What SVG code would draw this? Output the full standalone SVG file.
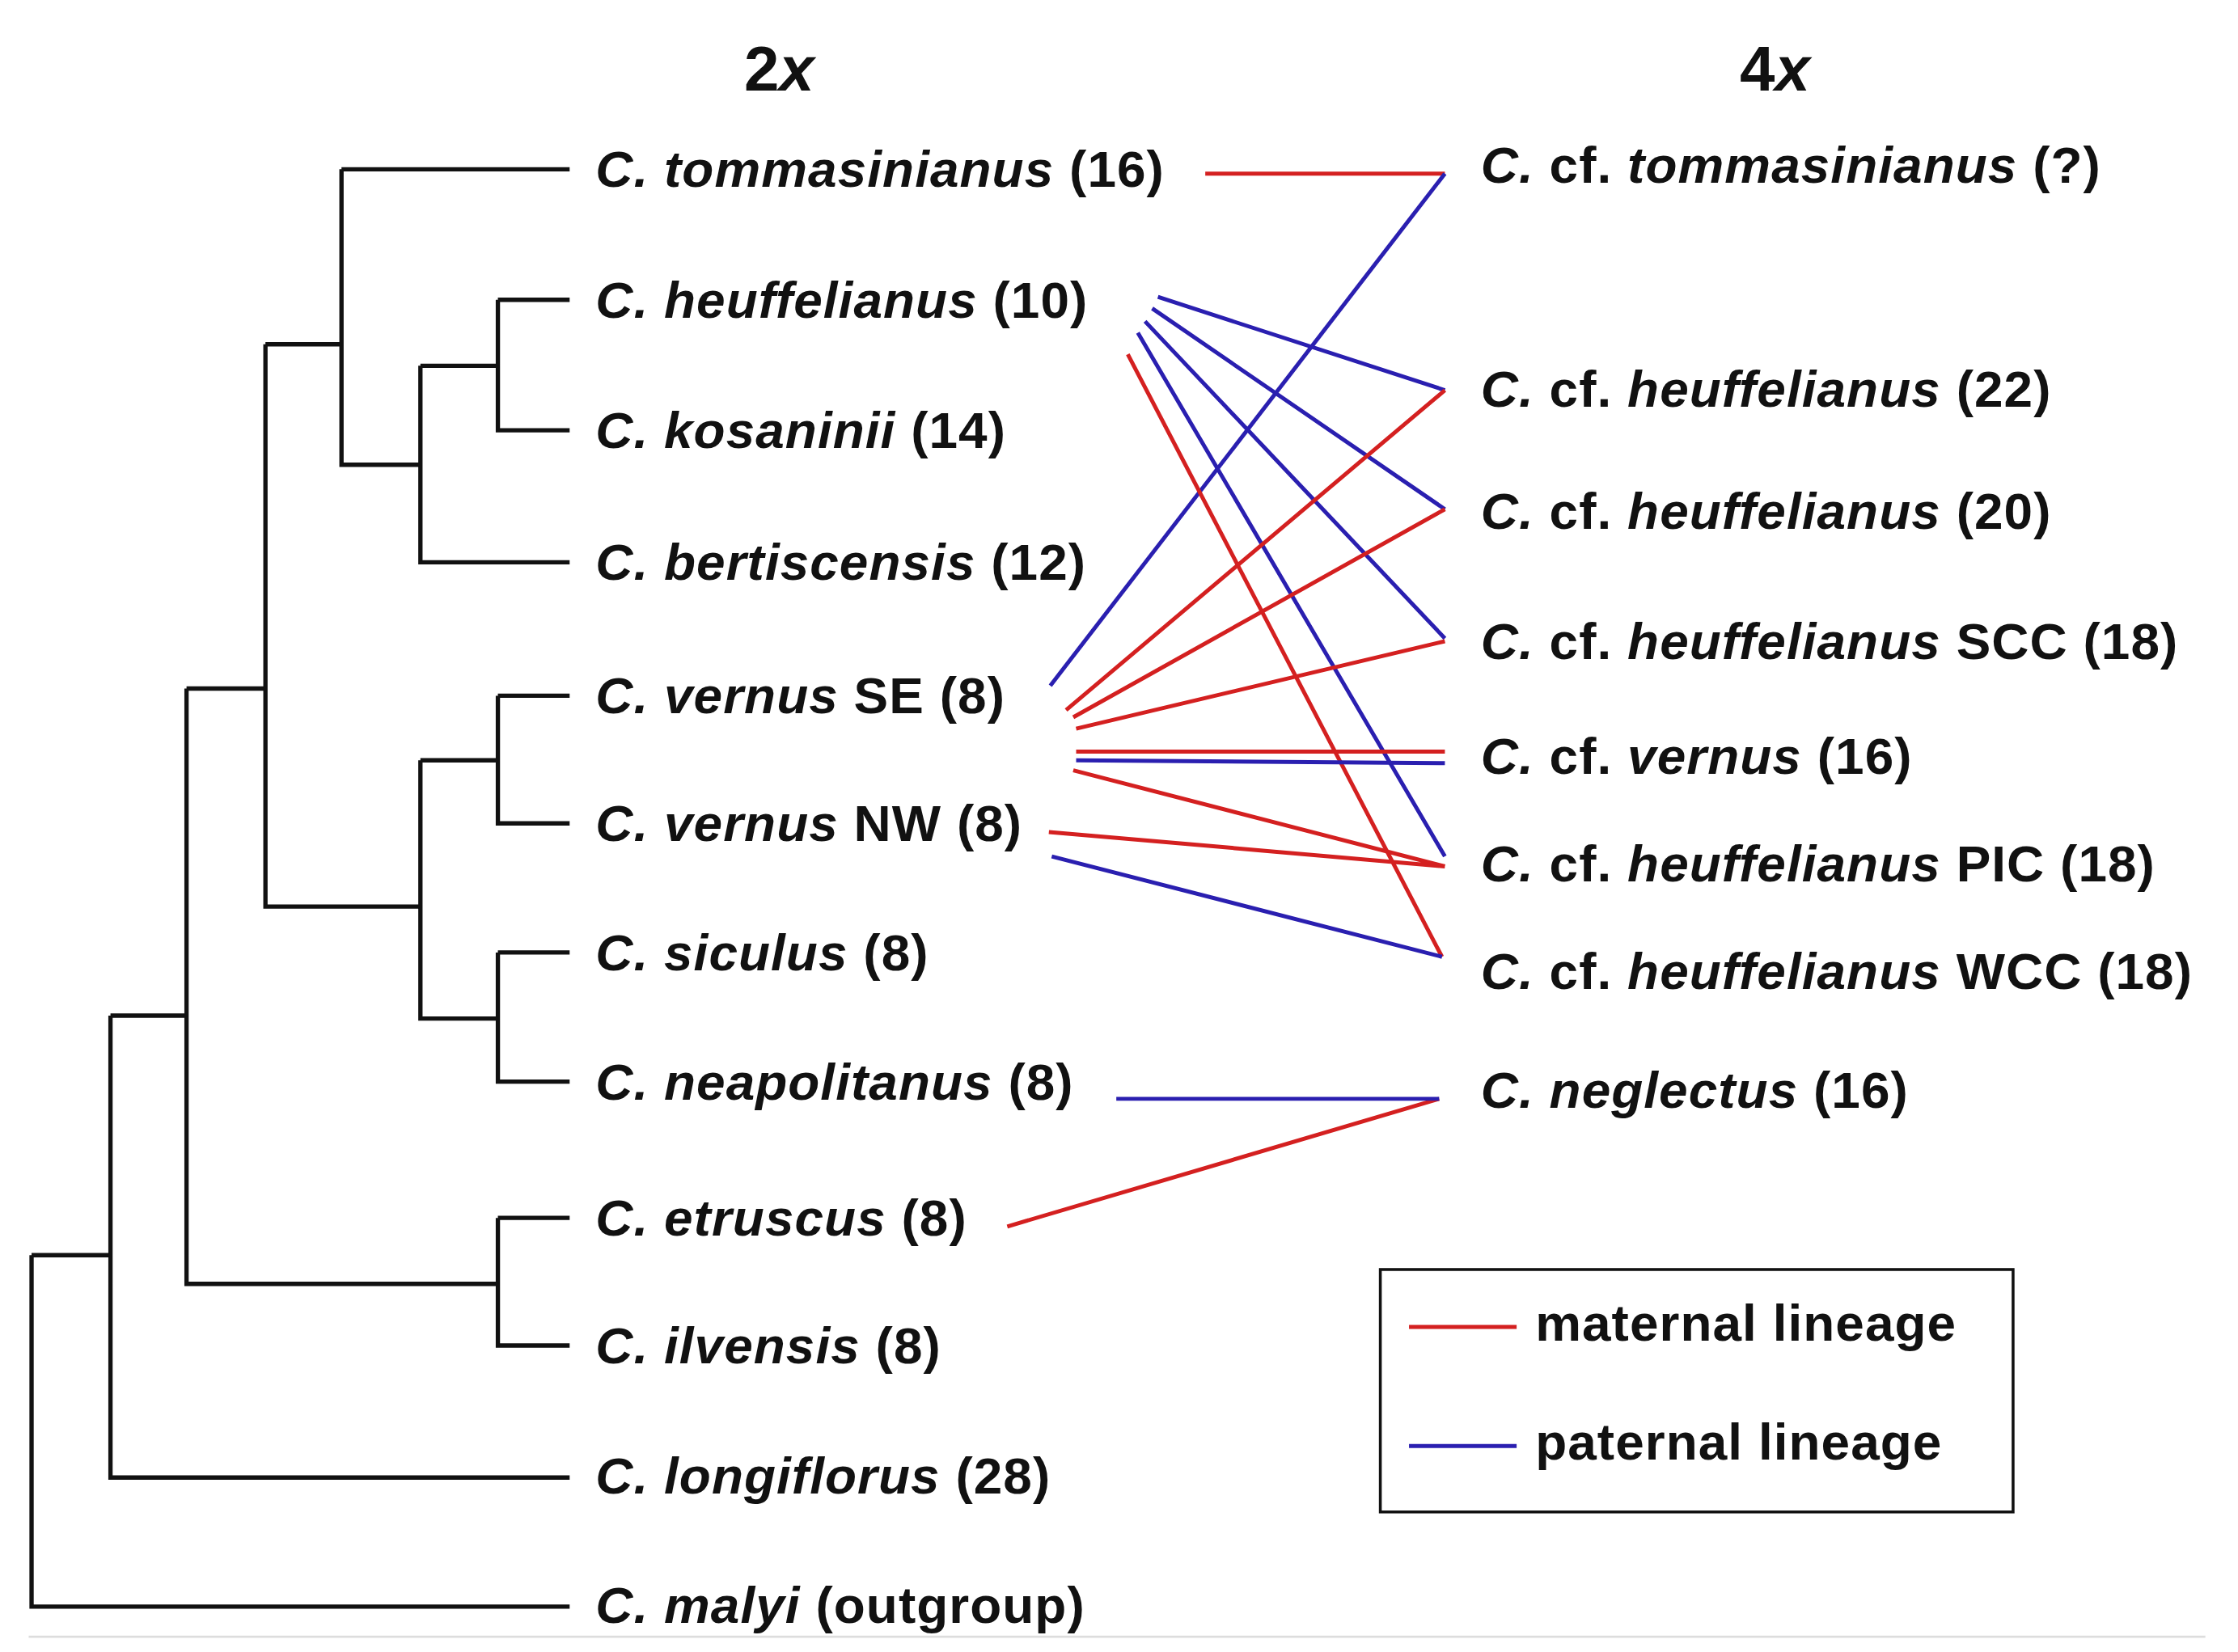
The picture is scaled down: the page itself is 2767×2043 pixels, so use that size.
<svg xmlns="http://www.w3.org/2000/svg" width="2767" height="2043" viewBox="0 0 2767 2043">
<style>
.t{font-family:"Liberation Sans",Arial,sans-serif;font-weight:bold;font-size:36px;letter-spacing:0.6px;fill:#111;dominant-baseline:central}
.i{font-style:italic}
.tr path{stroke:#111;stroke-width:3;fill:none}
.r{stroke:#d42020;stroke-width:2.8;fill:none}
.b{stroke:#2a1fb0;stroke-width:2.8;fill:none}
.h{font-family:"Liberation Sans",Arial,sans-serif;font-weight:bold;font-size:44px;fill:#111;text-anchor:middle}
</style>
<rect width="2767" height="2043" fill="#fff"/>
<g transform="scale(1.774)">
<text class="h" x="543" y="63">2<tspan font-style="italic">x</tspan></text>
<text class="h" x="1237" y="63">4<tspan font-style="italic">x</tspan></text>
<g id="tree" class="tr">
<path d="M238,118H397M238,118V324H293M347,209H397M347,209V300H397M293,255H347M293,255V392H397M185,240H238M185,240V632H293M347,485H397M347,485V574H397M293,530H347M293,530V710H347M347,664H397M347,664V754H397M130,480H185M130,480V895H347M347,849H397M347,849V938H397M77,708H130M77,708V1030H397M22,875H77M22,875V1120H397"/>
</g>
<g id="left-labels">
<text class="t" x="415" y="118"><tspan class="i">C. tommasinianus</tspan> (16)</text>
<text class="t" x="415" y="209"><tspan class="i">C. heuffelianus</tspan> (10)</text>
<text class="t" x="415" y="300"><tspan class="i">C. kosaninii</tspan> (14)</text>
<text class="t" x="415" y="392"><tspan class="i">C. bertiscensis</tspan> (12)</text>
<text class="t" x="415" y="485"><tspan class="i">C. vernus</tspan> SE (8)</text>
<text class="t" x="415" y="574"><tspan class="i">C. vernus</tspan> NW (8)</text>
<text class="t" x="415" y="664"><tspan class="i">C. siculus</tspan> (8)</text>
<text class="t" x="415" y="754"><tspan class="i">C. neapolitanus</tspan> (8)</text>
<text class="t" x="415" y="849"><tspan class="i">C. etruscus</tspan> (8)</text>
<text class="t" x="415" y="938"><tspan class="i">C. ilvensis</tspan> (8)</text>
<text class="t" x="415" y="1029"><tspan class="i">C. longiflorus</tspan> (28)</text>
<text class="t" x="415" y="1119"><tspan class="i">C. malyi</tspan> (outgroup)</text>
</g>
<g id="right-labels">
<text class="t" x="1032" y="115"><tspan class="i">C.</tspan> cf. <tspan class="i">tommasinianus</tspan> (?)</text>
<text class="t" x="1032" y="271"><tspan class="i">C.</tspan> cf. <tspan class="i">heuffelianus</tspan> (22)</text>
<text class="t" x="1032" y="356"><tspan class="i">C.</tspan> cf. <tspan class="i">heuffelianus</tspan> (20)</text>
<text class="t" x="1032" y="447"><tspan class="i">C.</tspan> cf. <tspan class="i">heuffelianus</tspan> SCC (18)</text>
<text class="t" x="1032" y="527"><tspan class="i">C.</tspan> cf. <tspan class="i">vernus</tspan> (16)</text>
<text class="t" x="1032" y="602"><tspan class="i">C.</tspan> cf. <tspan class="i">heuffelianus</tspan> PIC (18)</text>
<text class="t" x="1032" y="677"><tspan class="i">C.</tspan> cf. <tspan class="i">heuffelianus</tspan> WCC (18)</text>
<text class="t" x="1032" y="760"><tspan class="i">C. neglectus</tspan> (16)</text>
</g>
<g id="connectors">
<path class="r" d="M840,121H1007"/>
<path class="b" d="M1007,121L732,478"/>
<path class="b" d="M807,207L1007,272M803,215L1007,355M798,224L1007,445M793,232L1007,597"/>
<path class="r" d="M786,247L1005,667"/>
<path class="r" d="M743,495L1007,272M748,500L1007,355M750,508L1007,447M750,524L1007,524M748,537L1007,604M731,580L1007,604M702,855L1003,766"/>
<path class="b" d="M750,530L1007,532M733,597L1005,667M778,766H1003"/>
</g>
<g id="legend">
<rect x="962" y="885" width="441" height="169" fill="none" stroke="#111" stroke-width="2"/>
<path class="r" d="M982,925H1057"/>
<path class="b" d="M982,1008H1057"/>
<text class="t" x="1070" y="922">maternal lineage</text>
<text class="t" x="1070" y="1005">paternal lineage</text>
</g>
<path d="M20,1141H1537" stroke="#ddd" stroke-width="1.5"/>
</g>
</svg>
